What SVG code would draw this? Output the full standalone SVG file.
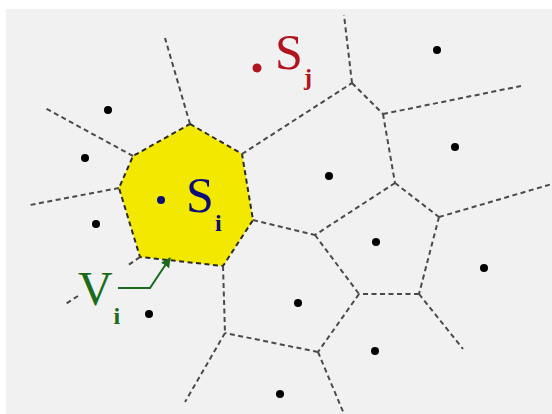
<svg xmlns="http://www.w3.org/2000/svg" width="552" height="414" viewBox="0 0 552 414">
  <defs>
    <style>
      .edge { stroke: #4a4a4a; stroke-width: 2; stroke-dasharray: 5 3.5; fill: none; stroke-linecap: butt; }
      .cell { fill: #f3e800; stroke: #2a2a2a; stroke-width: 2; stroke-dasharray: 5 3.5; }
      .site { fill: #000000; }
      .lbl { font-family: "Liberation Serif", "Times New Roman", serif; font-size: 50px; }
      .sub { font-family: "Liberation Serif", "Times New Roman", serif; font-size: 24px; font-weight: bold; }
    </style>
    <marker id="arrowG" viewBox="0 0 10 10" refX="9" refY="5" markerWidth="5" markerHeight="5" orient="auto" markerUnits="strokeWidth">
      <path d="M0,0 L10,5 L0,10 z" fill="#1b6b1b"/>
    </marker>
  </defs>

  <rect x="0" y="0" width="552" height="414" fill="#ffffff"/>
  <rect id="background" x="6" y="9" width="546" height="405" fill="#f1f1f1"/>

  <g id="cell-Vi">
    <polygon class="cell" points="190,124 242,154 253,220 223,266 140,257 119,188 133,156"/>
  </g>

  <g id="connectors">
    <line class="edge" x1="190" y1="124" x2="165" y2="38"/>
    <line class="edge" x1="133" y1="156" x2="45" y2="108"/>
    <line class="edge" x1="119" y1="188" x2="30" y2="205"/>
    <line class="edge" x1="242" y1="154" x2="352" y2="83"/>
    <line class="edge" x1="253" y1="220" x2="315" y2="235"/>
    <line class="edge" x1="223" y1="266" x2="225" y2="333"/>
    <line class="edge" x1="140" y1="257" x2="127" y2="266"/>
    <line class="edge" x1="78" y1="296" x2="64" y2="305"/>
    <line class="edge" x1="352" y1="83" x2="344" y2="15"/>
    <line class="edge" x1="352" y1="83" x2="383" y2="114"/>
    <line class="edge" x1="383" y1="114" x2="521" y2="86"/>
    <line class="edge" x1="383" y1="114" x2="395" y2="183"/>
    <line class="edge" x1="395" y1="183" x2="315" y2="235"/>
    <line class="edge" x1="395" y1="183" x2="439" y2="217"/>
    <line class="edge" x1="439" y1="217" x2="552" y2="184"/>
    <line class="edge" x1="439" y1="217" x2="419" y2="294"/>
    <line class="edge" x1="419" y1="294" x2="359" y2="294"/>
    <line class="edge" x1="419" y1="294" x2="463" y2="349"/>
    <line class="edge" x1="315" y1="235" x2="359" y2="294"/>
    <line class="edge" x1="359" y1="294" x2="318" y2="352"/>
    <line class="edge" x1="318" y1="352" x2="225" y2="333"/>
    <line class="edge" x1="225" y1="333" x2="185" y2="402"/>
    <line class="edge" x1="318" y1="352" x2="344" y2="414"/>
  </g>

  <g id="sites">
    <circle class="site" cx="108" cy="110" r="4"/>
    <circle class="site" cx="85" cy="158" r="4"/>
    <circle class="site" cx="96" cy="224" r="4"/>
    <circle class="site" cx="149" cy="314" r="4"/>
    <circle class="site" cx="437" cy="50" r="4"/>
    <circle class="site" cx="455" cy="147" r="4"/>
    <circle class="site" cx="329" cy="176" r="4"/>
    <circle class="site" cx="376" cy="242" r="4"/>
    <circle class="site" cx="298" cy="303" r="4"/>
    <circle class="site" cx="484" cy="268" r="4"/>
    <circle class="site" cx="375" cy="351" r="4"/>
    <circle class="site" cx="280" cy="394" r="4"/>
  </g>

  <g id="site-Si">
    <circle cx="161" cy="200" r="4" fill="#0d0d7a"/>
    <text class="lbl" x="186" y="212" fill="#0d0d7a">S</text>
    <text class="sub" x="215" y="231" fill="#0d0d7a">i</text>
  </g>

  <g id="site-Sj">
    <circle cx="257" cy="68" r="4.5" fill="#b0141e"/>
    <text class="lbl" x="275" y="69" fill="#b0141e">S</text>
    <text class="sub" x="304" y="85" fill="#b0141e">j</text>
  </g>

  <g id="label-Vi">
    <text class="lbl" x="78" y="305" fill="#1b6b1b" style="font-size:48px">V</text>
    <text class="sub" x="113.5" y="324" fill="#1b6b1b">i</text>
    <polyline points="118,288 150,288 170,258" fill="none" stroke="#1b6b1b" stroke-width="2" marker-end="url(#arrowG)"/>
  </g>
</svg>
